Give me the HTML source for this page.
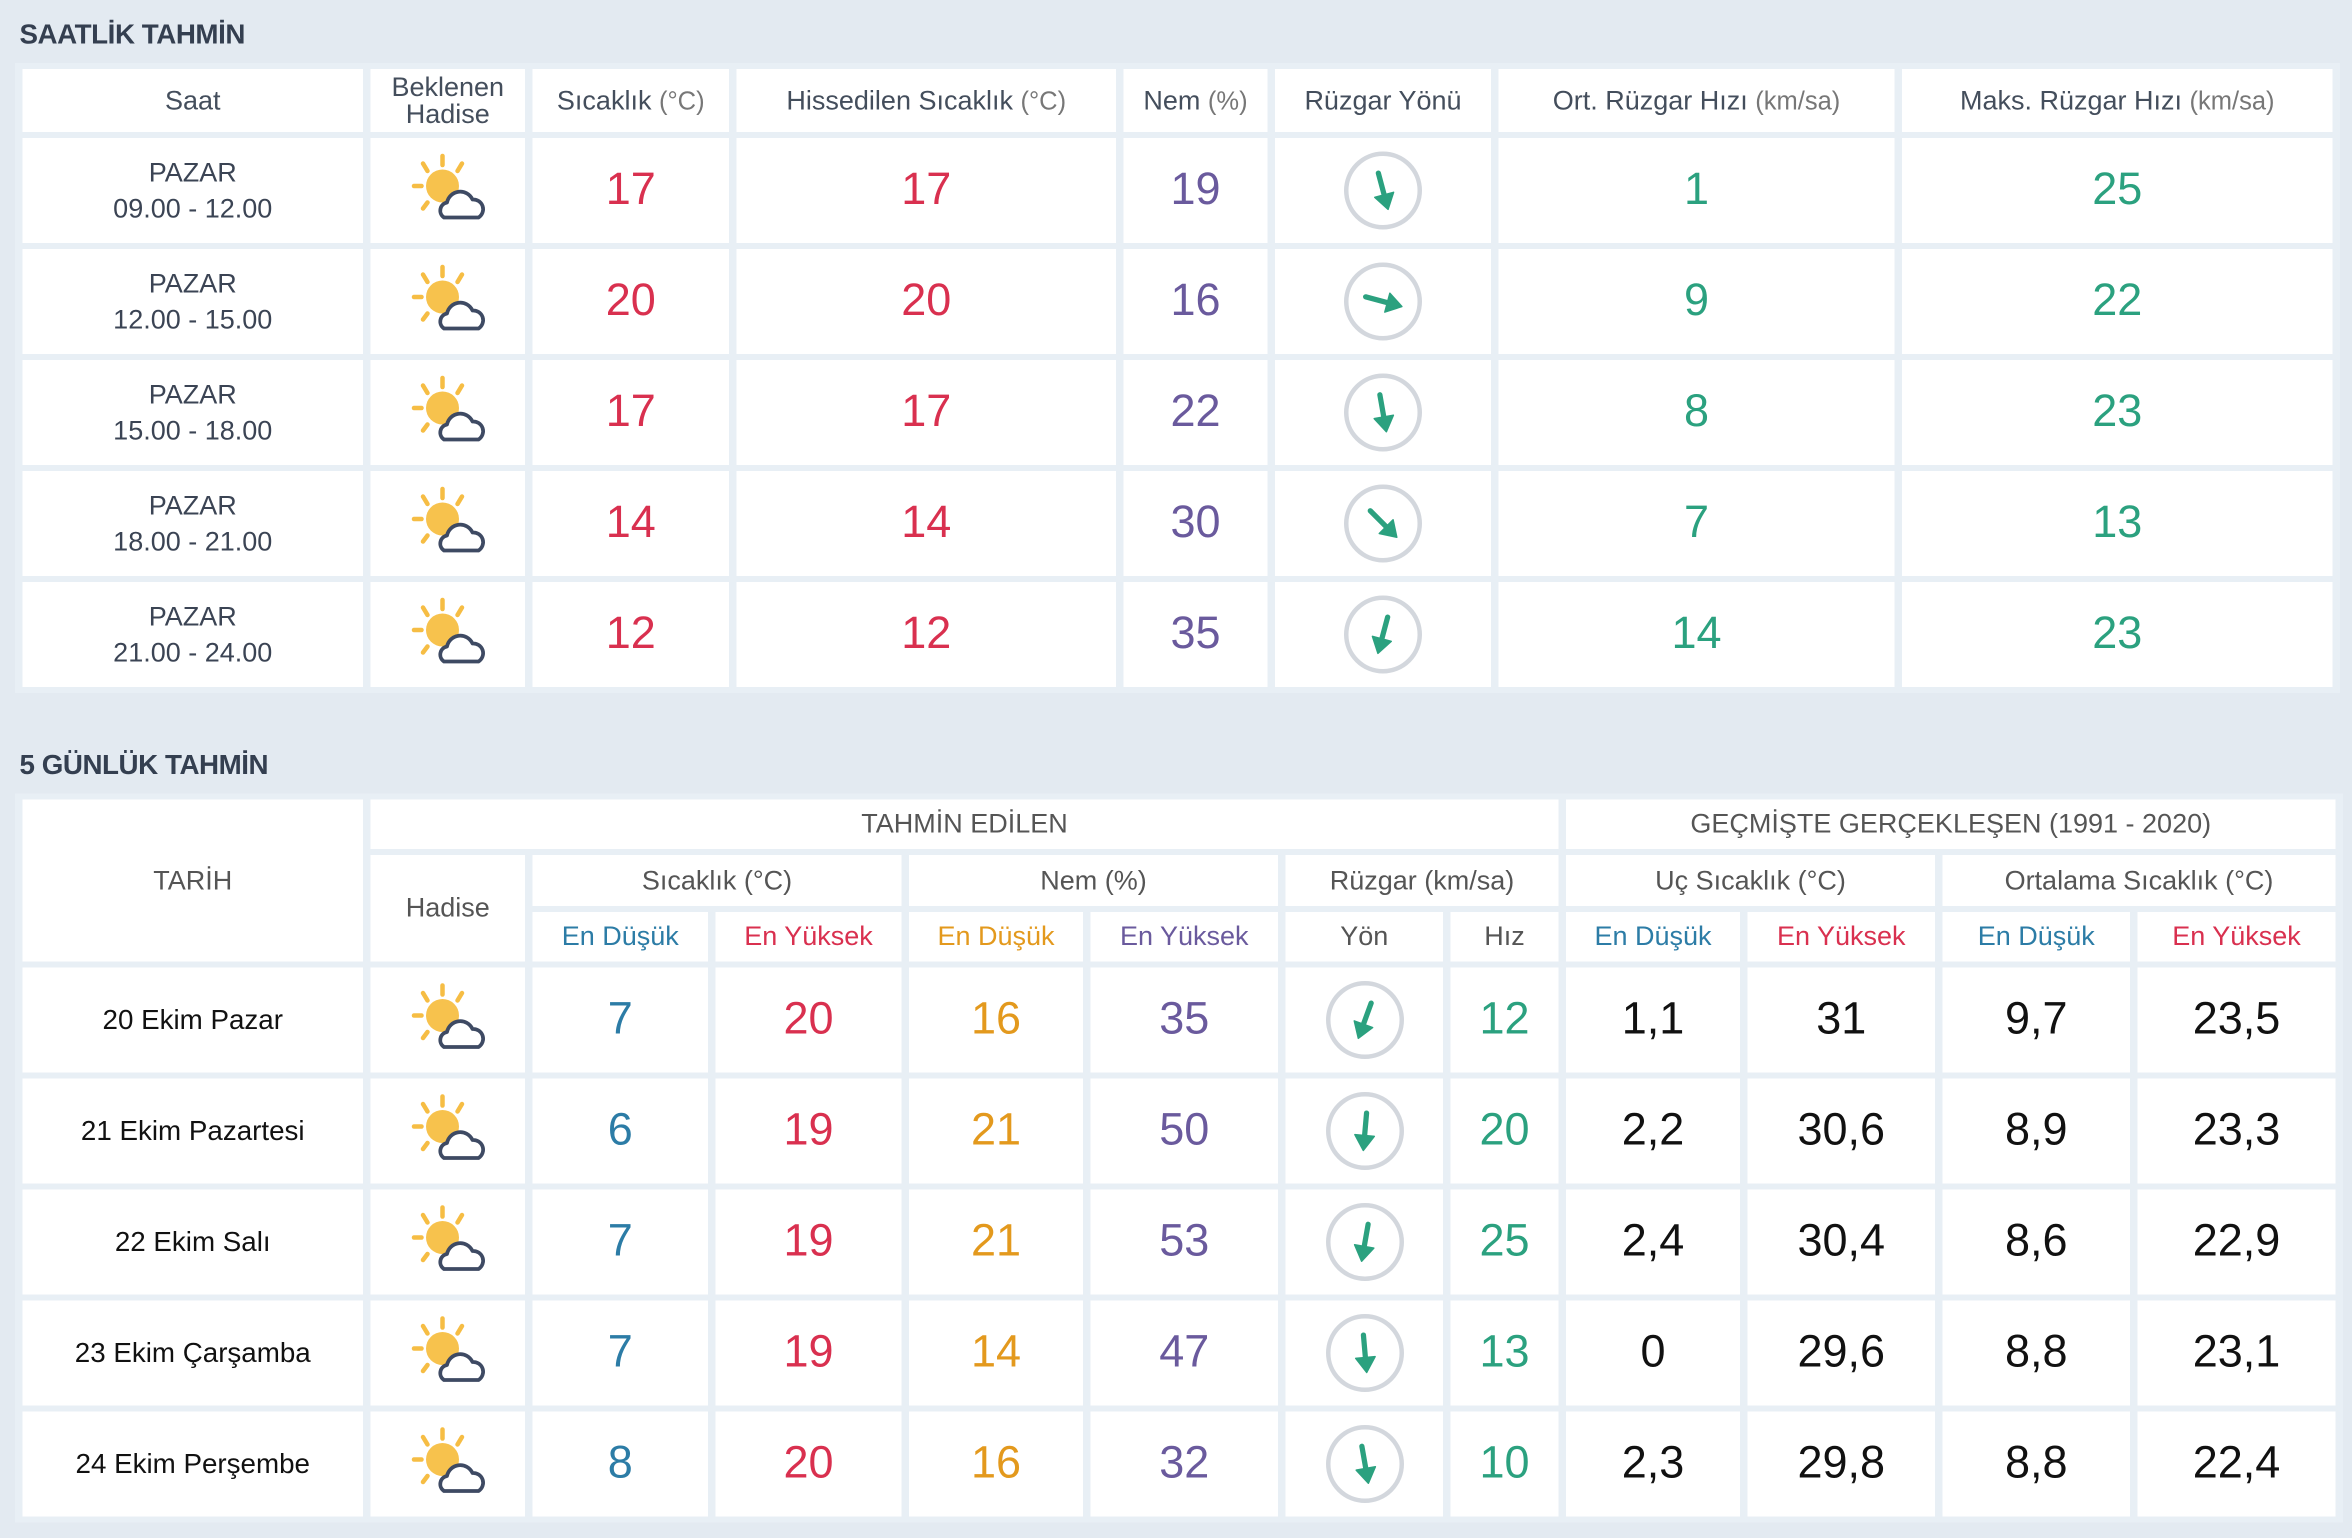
<!DOCTYPE html>
<html><head><meta charset="utf-8">
<style>
html,body{margin:0;padding:0;width:2352px;height:1538px;overflow:hidden;background:#e3eaf1;}
#wrap{position:absolute;left:0;top:0;width:1568px;height:1025px;transform:scale(1.5);transform-origin:0 0;font-family:"Liberation Sans",sans-serif;}
h2{position:absolute;left:13px;margin:0;font-size:18.5px;font-weight:bold;color:#343f50;letter-spacing:-0.3px;}
table{position:absolute;left:10px;border-collapse:separate;border-spacing:5px 4.5px;background:#e8eff5;}
td{background:#fff;text-align:center;vertical-align:middle;padding:0;color:#444e5c;}
.h td{font-size:18px;}
.h small{font-size:17px;color:#777;}
.n{font-size:30px;}
.t{font-size:18px;color:#3b4454;line-height:24px}
.d{font-size:18.5px;color:#111}
.g{font-size:18px;color:#555}
.b{font-size:30px;color:#111}
.red{color:#d9304f}.pur{color:#6a5a9d}.grn{color:#2ba17f}.blu{color:#2c7ca6}.org{color:#e3991d}
</style></head>
<body>
<svg width="0" height="0" style="position:absolute">
<defs>
<symbol id="wx" viewBox="0 0 52 52">
<g stroke="#f6bd44" stroke-width="3" stroke-linecap="round">
<line x1="22" y1="3" x2="22" y2="9"/><line x1="9" y1="8" x2="12" y2="13"/><line x1="35" y1="8" x2="32" y2="13"/>
<line x1="3" y1="23" x2="8" y2="23"/><line x1="9" y1="38" x2="12" y2="34"/></g>
<circle cx="22" cy="23" r="11" fill="#f7c24d"/>
<path d="M23 44 a5.5 5.5 0 0 1 2-10 a9 9 0 0 1 17-2 a6.5 6.5 0 0 1 4 12 z" fill="#fff" stroke="#3e4a63" stroke-width="2.5" stroke-linejoin="round"/>
</symbol>
</defs></svg>
<div id="wrap">
<h2 style="top:12px">SAATLİK TAHMİN</h2>
<table id="t1" style="top:42px">
<colgroup><col style="width:227px"><col style="width:103px"><col style="width:131px"><col style="width:253px"><col style="width:96px"><col style="width:144px"><col style="width:264px"><col style="width:287px"></colgroup>
<tr class="h" style="height:42px">
<td>Saat</td>
<td style="line-height:18px">Beklenen<br>Hadise</td>
<td>Sıcaklık <small>(°C)</small></td>
<td>Hissedilen Sıcaklık <small>(°C)</small></td>
<td>Nem <small>(%)</small></td>
<td>Rüzgar Yönü</td>
<td>Ort. Rüzgar Hızı <small>(km/sa)</small></td>
<td>Maks. Rüzgar Hızı <small>(km/sa)</small></td>
</tr>
</table>
<h2 style="top:499px">5 GÜNLÜK TAHMİN</h2>
<table id="t2" style="top:529px">
<colgroup><col style="width:227px"><col style="width:103px"><col style="width:117px"><col style="width:124px"><col style="width:116px"><col style="width:125px"><col style="width:105px"><col style="width:72px"><col style="width:116px"><col style="width:125px"><col style="width:125px"><col style="width:132px"></colgroup>
<tr style="height:33px">
<td rowspan="3" class="g">TARİH</td>
<td colspan="7" class="g">TAHMİN EDİLEN</td>
<td colspan="4" class="g">GEÇMİŞTE GERÇEKLEŞEN (1991 - 2020)</td>
</tr>
<tr style="height:34px">
<td rowspan="2" class="g">Hadise</td>
<td colspan="2" class="g">Sıcaklık (°C)</td>
<td colspan="2" class="g">Nem (%)</td>
<td colspan="2" class="g">Rüzgar (km/sa)</td>
<td colspan="2" class="g">Uç Sıcaklık (°C)</td>
<td colspan="2" class="g">Ortalama Sıcaklık (°C)</td>
</tr>
<tr style="height:33px">
<td class="g blu">En Düşük</td>
<td class="g red">En Yüksek</td>
<td class="g org">En Düşük</td>
<td class="g pur">En Yüksek</td>
<td class="g">Yön</td>
<td class="g">Hız</td>
<td class="g blu">En Düşük</td>
<td class="g red">En Yüksek</td>
<td class="g blu">En Düşük</td>
<td class="g red">En Yüksek</td>
</tr>
</table>
</div>
<script>
const hourSlots=["09.00 - 12.00","12.00 - 15.00","15.00 - 18.00","18.00 - 21.00","21.00 - 24.00"];
const hourTemp=[17,20,17,14,12];
const hourFeels=[17,20,17,14,12];
const hourHum=[19,16,22,30,35];
const hourDir=[-15,-75,-10,-45,15];
const hourAvgWind=[1,9,8,7,14];
const hourMaxWind=[25,22,23,13,23];

const days=["20 Ekim Pazar","21 Ekim Pazartesi","22 Ekim Salı","23 Ekim Çarşamba","24 Ekim Perşembe"];
const dayTmin=[7,6,7,7,8];
const dayTmax=[20,19,19,19,20];
const dayHmin=[16,21,21,14,16];
const dayHmax=[35,50,53,47,32];
const dayDir=[20,5,10,-5,-10];
const daySpeed=[12,20,25,13,10];
const histExMin=["1,1","2,2","2,4","0","2,3"];
const histExMax=["31","30,6","30,4","29,6","29,8"];
const histAvgMin=["9,7","8,9","8,6","8,8","8,8"];
const histAvgMax=["23,5","23,3","22,9","23,1","22,4"];

function cell(tr,cls,html,name){
  const td=document.createElement('td');
  td.className=cls;td.innerHTML=html;
  
  
  tr.appendChild(td);return td;
}
function wxIcon(){return '<svg width="52" height="52" viewBox="0 0 52 52" style="display:block;margin:0 auto"><use href="#wx" x="0" y="0" width="52" height="52"/></svg>';}
function windIcon(deg){
  return '<svg width="54" height="54" viewBox="-27 -27 54 54" style="display:block;margin:0 auto">'+
  '<circle r="24.5" fill="#fff" stroke="#d3d7dd" stroke-width="3"/>'+
  '<g transform="rotate('+deg+')" fill="#2ba17f" stroke="#2ba17f"><line x1="0" y1="-12" x2="0" y2="6" stroke-width="3.5" stroke-linecap="round"/><polygon points="0,13 -6.5,3 6.5,3" stroke-width="1" stroke-linejoin="round"/></g></svg>';
}
const t1=document.getElementById('t1');
hourSlots.forEach((s,i)=>{
  const tr=document.createElement('tr');tr.style.height='70px';
  
  
  cell(tr,'t','PAZAR<br>'+s,'hour-slot');
  cell(tr,'',wxIcon(),'weather-icon');
  cell(tr,'n red',hourTemp[i],'temperature');
  cell(tr,'n red',hourFeels[i],'feels-like');
  cell(tr,'n pur',hourHum[i],'humidity');
  cell(tr,'',windIcon(hourDir[i]),'wind-direction-icon');
  cell(tr,'n grn',hourAvgWind[i],'avg-wind-speed');
  cell(tr,'n grn',hourMaxWind[i],'max-wind-speed');
  t1.appendChild(tr);
});
const t2=document.getElementById('t2');
days.forEach((d,i)=>{
  const tr=document.createElement('tr');tr.style.height='70px';
  
  
  cell(tr,'d',d,'date');
  cell(tr,'',wxIcon(),'weather-icon');
  cell(tr,'n blu',dayTmin[i],'temp-min');
  cell(tr,'n red',dayTmax[i],'temp-max');
  cell(tr,'n org',dayHmin[i],'humidity-min');
  cell(tr,'n pur',dayHmax[i],'humidity-max');
  cell(tr,'',windIcon(dayDir[i]),'wind-direction-icon');
  cell(tr,'n grn',daySpeed[i],'wind-speed');
  cell(tr,'b',histExMin[i],'hist-extreme-min');
  cell(tr,'b',histExMax[i],'hist-extreme-max');
  cell(tr,'b',histAvgMin[i],'hist-avg-min');
  cell(tr,'b',histAvgMax[i],'hist-avg-max');
  t2.appendChild(tr);
});
</script>
</body></html>
